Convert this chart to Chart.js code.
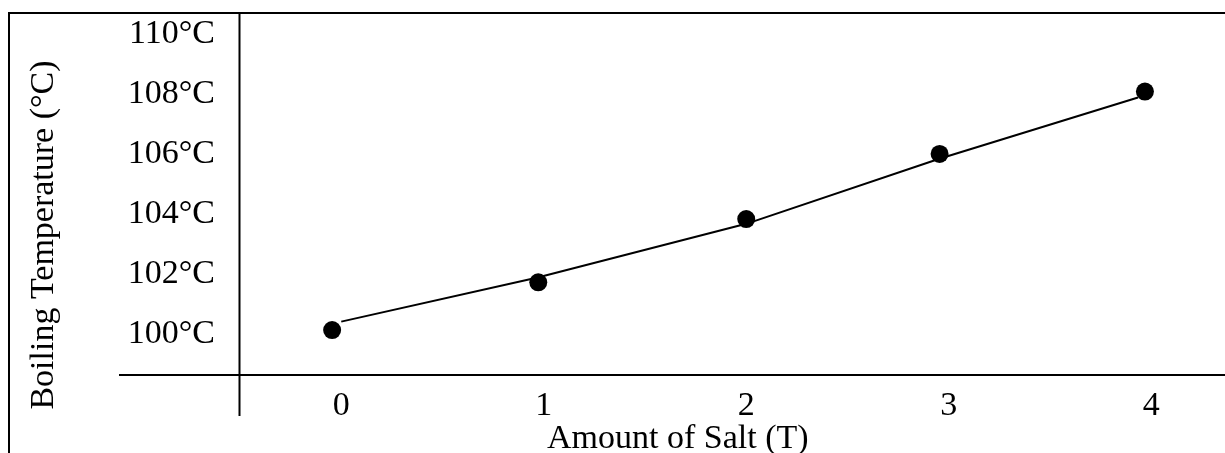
<!DOCTYPE html>
<html>
<head>
<meta charset="utf-8">
<script src="https://cdn.jsdelivr.net/npm/chart.js@4"></script>
<style>
  html, body { margin: 0; padding: 0; background: #fff; }
  #wrap { width: 1225px; height: 453px; position: relative; }
</style>
</head>
<body>
<div id="wrap"><canvas id="chart1"></canvas></div>
<script>
// measured dots (amount of salt, boiling temperature)
const saltAmounts = [-0.045, 0.973, 2.0, 2.955, 3.969]
const boilTemps = [100.13, 101.72, 103.83, 106.0, 108.08]

// hand drawn connecting line (vertices)
const lineSalt = [0.0, 0.97, 2.0, 2.95, 3.935]
const lineTemps = [100.41, 101.88, 103.67, 105.83, 107.88]

// tick labels
const xTicks = [0, 1, 2, 3, 4]
const yTicks = [100, 102, 104, 106, 108, 110]

const xTitle = 'Amount of Salt (T)'
const yTitle = 'Boiling Temperature (°C)'

const font = '"Liberation Serif", "Times New Roman", serif'

const framePlugin = {
  id: 'frame',
  afterDraw(chart) {
    const ctx = chart.ctx
    const a = chart.chartArea
    ctx.save()
    ctx.strokeStyle = '#000'
    ctx.lineWidth = 2
    ctx.beginPath()
    // outer frame (top + left)
    ctx.moveTo(8, a.top); ctx.lineTo(chart.width, a.top)
    ctx.moveTo(9, a.top); ctx.lineTo(9, chart.height)
    // axes, crossing each other
    ctx.moveTo(119, a.bottom); ctx.lineTo(chart.width, a.bottom)
    ctx.moveTo(a.left - 0.5, a.top); ctx.lineTo(a.left - 0.5, a.bottom + 41)
    ctx.stroke()

    ctx.fillStyle = '#000'
    ctx.font = '34px ' + font
    ctx.textAlign = 'left'
    ctx.textBaseline = 'alphabetic'
    ctx.fillText(xTitle, 547, 447.5)

    ctx.translate(53, 235)
    ctx.rotate(-Math.PI / 2)
    ctx.textAlign = 'center'
    ctx.fillText(yTitle, 0, 0)
    ctx.restore()
  }
}

// keep label overflow from shrinking the plot area
const noPad = s => { s.paddingTop = 0; s.paddingBottom = 0; s.paddingLeft = 0; s.paddingRight = 0 }

new Chart(document.getElementById('chart1'), {
  type: 'scatter',
  data: {
    datasets: [
      {
        label: 'line',
        data: lineSalt.map((x, i) => ({ x: x, y: lineTemps[i] })),
        showLine: true,
        borderColor: '#000',
        borderWidth: 2,
        pointRadius: 0,
        order: 2
      },
      {
        label: 'Boiling Temperature',
        data: saltAmounts.map((x, i) => ({ x: x, y: boilTemps[i] })),
        showLine: false,
        backgroundColor: '#000',
        borderColor: '#000',
        borderWidth: 0,
        pointRadius: 9,
        order: 1
      }
    ]
  },
  options: {
    responsive: true,
    maintainAspectRatio: false,
    animation: false,
    layout: { padding: { top: 13, left: 0, right: 0, bottom: 0 } },
    plugins: {
      legend: { display: false },
      tooltip: { enabled: false }
    },
    scales: {
      x: {
        type: 'linear',
        min: -0.5,
        max: 4.32,
        grid: { display: false },
        border: { display: false },
        afterBuildTicks: s => { s.ticks = xTicks.map(v => ({ value: v })) },
        afterFit: s => { s.height = 78; noPad(s) },
        ticks: {
          color: '#000',
          padding: 3,
          maxRotation: 0,
          font: { family: font, size: 34 }
        }
      },
      y: {
        type: 'linear',
        min: 98.63,
        max: 110.7,
        grid: { display: false },
        border: { display: false },
        afterBuildTicks: s => { s.ticks = yTicks.map(v => ({ value: v })) },
        afterFit: s => { s.width = 240; noPad(s) },
        ticks: {
          color: '#000',
          padding: 17,
          font: { family: font, size: 34 },
          callback: v => v + '°C'
        }
      }
    }
  },
  plugins: [framePlugin]
})
</script>
</body>
</html>
